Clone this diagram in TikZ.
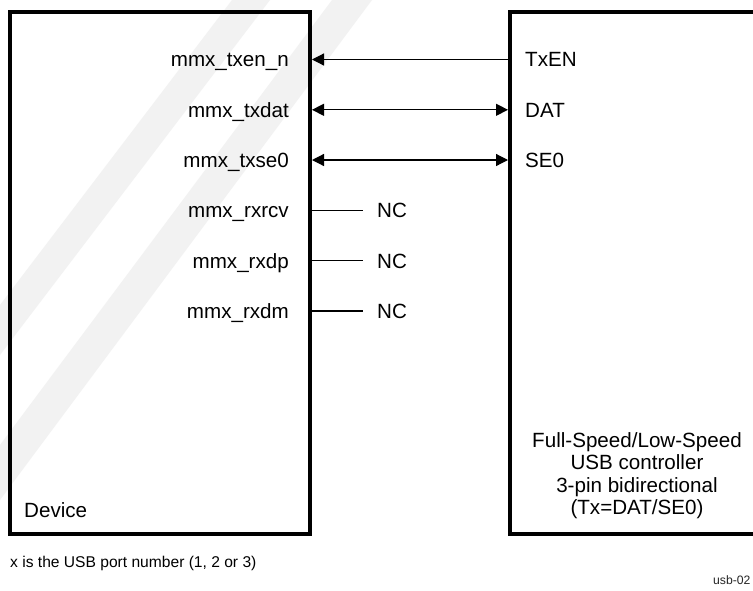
\documentclass[tikz,border=0pt]{standalone}
\usepackage{fontspec}
\setmainfont{Liberation Sans}
\usetikzlibrary{arrows.meta}
\begin{document}
\begin{tikzpicture}[x=1pt,y=-1pt,
  boxstyle/.style={draw=black, line width=4pt, inner sep=0pt, outer sep=0pt},
  pinlabel/.style={anchor=base east, inner sep=0pt, font=\fontsize{20.6}{22}\selectfont},
  sigtext/.style={anchor=base west, inner sep=0pt, font=\fontsize{20.6}{22}\selectfont},
  ctltext/.style={anchor=base, inner sep=0pt, font=\fontsize{20.6}{22}\selectfont},
  wire/.style={line width=1.2pt, >={Triangle[length=12pt,width=12pt]}},
  wm/.style={fill=black!5},
]
\useasboundingbox (0,0) rectangle (753,590);
\clip (0,0) rectangle (753,590);
\fill[white] (0,0) rectangle (753,590);
% faint watermark bands
\fill[wm] (232,0) -- (270,0) -- (0,355) -- (0,305) -- cycle;
\fill[wm] (332,0) -- (372,0) -- (0,500) -- (0,445) -- cycle;

% boxes
\node[boxstyle, minimum width=300pt, minimum height=522pt] (dev) at (160,273) {};
\node[boxstyle, minimum width=300pt, minimum height=522pt] (ctl) at (660,273) {};

% pin labels on the device
\node[pinlabel] (l1) at (289,66.9) {mmx\_txen\_n};
\node[pinlabel] (l2) at (289,117.2) {mmx\_txdat};
\node[pinlabel] (l3) at (289,167.4) {mmx\_txse0};
\node[pinlabel] (l4) at (289,217.9) {mmx\_rxrcv};
\node[pinlabel] (l5) at (289,268.2) {mmx\_rxdp};
\node[pinlabel] (l6) at (289,318.4) {mmx\_rxdm};

% controller pin labels
\node[sigtext] (s1) at (525,66.9) {TxEN};
\node[sigtext] (s2) at (525,117.2) {DAT};
\node[sigtext] (s3) at (525,167.4) {SE0};

% NC labels
\node[sigtext] (nc4) at (377,217.9) {NC};
\node[sigtext] (nc5) at (377,268.2) {NC};
\node[sigtext] (nc6) at (377,318.4) {NC};

% pin coordinates
\coordinate (pL1) at (312,59.5);
\coordinate (pR1) at (508,59.5);
\coordinate (pL2) at (312,109.8);
\coordinate (pR2) at (508,109.8);
\coordinate (pL3) at (312,160);
\coordinate (pR3) at (508,160);
\coordinate (pL4) at (310,210.5);
\coordinate (pN4) at (363,210.5);
\coordinate (pL5) at (310,260.8);
\coordinate (pN5) at (363,260.8);
\coordinate (pL6) at (310,311);
\coordinate (pN6) at (363,311);

% connectors
\draw[wire,<-] (pL1) -- (pR1);
\draw[wire,<->] (pL2) -- (pR2);
\draw[wire,<->] (pL3) -- (pR3);
\draw[wire] (pL4) -- (pN4);
\draw[wire] (pL5) -- (pN5);
\draw[wire] (pL6) -- (pN6);

% box titles
\node[sigtext] (devname) at (24,517) {Device};
\node[ctltext] (c1) at (637,447) {Full-Speed/Low-Speed};
\node[ctltext] (c2) at (637,469.5) {USB controller};
\node[ctltext] (c3) at (637,492) {3-pin bidirectional};
\node[ctltext] (c4) at (637,514) {(Tx=DAT/SE0)};

% footnotes
\node[anchor=base west, inner sep=0pt, font=\fontsize{15.6}{18}\selectfont] (note) at (10,567) {x is the USB port number (1, 2 or 3)};
\node[anchor=base west, inner sep=0pt, font=\fontsize{12.2}{14}\selectfont, text=black!85] (fig) at (713,584) {usb-02};
\end{tikzpicture}
\end{document}
